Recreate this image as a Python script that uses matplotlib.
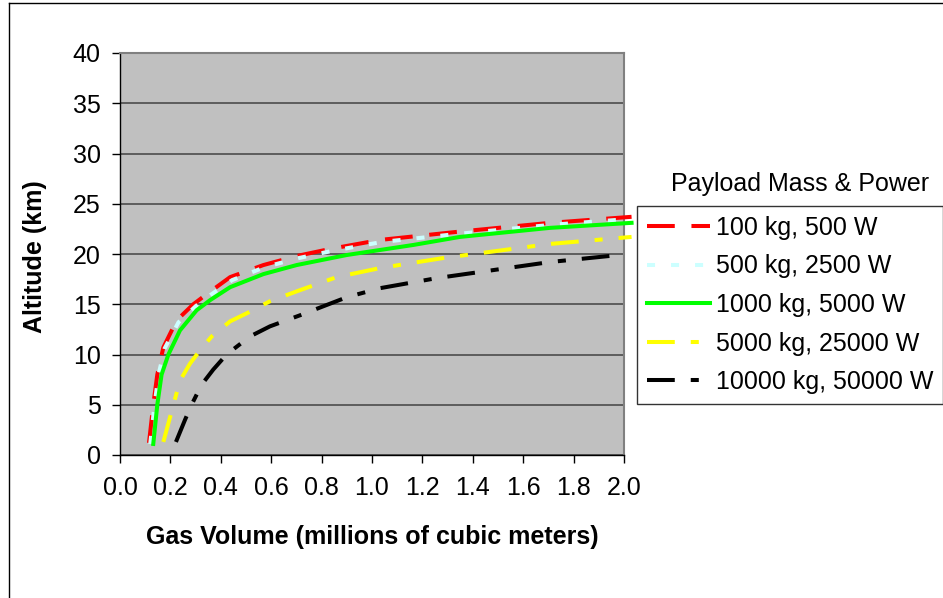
import matplotlib
matplotlib.use("Agg")
import matplotlib.pyplot as plt
import numpy as np
from matplotlib.lines import Line2D

plt.rcParams['font.family'] = ['Liberation Sans', 'DejaVu Sans']
plt.rcParams['lines.scale_dashes'] = False

# altitude (km) vs gas volume (millions of m^3) for each payload
labels = ['100 kg, 500 W', '500 kg, 2500 W', '1000 kg, 5000 W',
          '5000 kg, 25000 W', '10000 kg, 50000 W']

vol_100 = [0.115, 0.132, 0.148, 0.172, 0.225, 0.291, 0.344, 0.437, 0.569, 0.701,
           0.833, 1.032, 1.336, 1.706, 2.03]
alt_100 = [1.2, 5.0, 8.0, 10.7, 13.4, 15.0, 16.0, 17.7, 18.9, 19.8,
           20.5, 21.4, 22.2, 23.1, 23.7]

vol_500 = [0.12, 0.137, 0.153, 0.177, 0.232, 0.30, 0.352, 0.445, 0.575, 0.71,
           0.84, 1.04, 1.34, 1.71, 2.03]
alt_500 = [1.1, 5.0, 8.0, 10.6, 13.2, 14.8, 15.8, 17.4, 18.7, 19.6,
           20.3, 21.2, 22.0, 22.9, 23.5]

vol_1000 = [0.132, 0.148, 0.165, 0.192, 0.238, 0.304, 0.357, 0.437, 0.569, 0.701,
            0.9, 1.164, 1.349, 1.706, 2.03]
alt_1000 = [1.1, 5.0, 8.0, 10.0, 12.4, 14.4, 15.4, 16.7, 18.0, 18.9,
            19.9, 20.9, 21.7, 22.6, 23.1]

vol_5000 = [0.172, 0.212, 0.238, 0.278, 0.317, 0.364, 0.437, 0.503, 0.595, 0.714,
            0.86, 1.032, 1.283, 1.706, 2.03]
alt_5000 = [1.3, 5.0, 7.4, 9.1, 10.4, 11.8, 13.3, 14.1, 15.3, 16.4,
            17.7, 18.6, 19.6, 21.0, 21.7]

vol_10000 = [0.222, 0.258, 0.284, 0.324, 0.370, 0.423, 0.516, 0.595, 0.714, 0.9,
             1.032, 1.257, 1.706, 1.98]
alt_10000 = [1.3, 3.5, 5.0, 7.0, 8.5, 10.0, 11.8, 12.8, 13.9, 15.7,
             16.6, 17.6, 19.2, 19.9]

x_ticks = np.arange(0, 2.01, 0.2)
y_ticks = np.arange(0, 41, 5)

fig = plt.figure(figsize=(9.43, 5.98), dpi=100)
ax = fig.add_axes([120/943, 143/598, 504/943, 402/598])
ax.set_facecolor('#C0C0C0')

series = [
    (vol_100, alt_100, '#FF0000', (20, 12)),
    (vol_500, alt_500, '#CCFFFF', (5.8, 11.5)),
    (vol_1000, alt_1000, '#00FF00', None),
    (vol_5000, alt_5000, '#FFFF00', (20, 11.5, 5.8, 11.5)),
    (vol_10000, alt_10000, '#000000', (20, 11.5, 5.8, 11.5)),
]
handles = []
for (v, a, c, d), lab in zip(series, labels):
    ln, = ax.plot(v, a, color=c, lw=2.9, label=lab, clip_on=False, zorder=3,
                  solid_joinstyle='round')
    if d is not None:
        ln.set_dashes(d)
    handles.append(ln)

ax.set_xlim(0, 2.0)
ax.set_ylim(0, 40)
ax.set_xticks(x_ticks)
ax.set_xticklabels([f'{t:.1f}' for t in x_ticks])
ax.set_yticks(y_ticks)
ax.tick_params(axis='both', direction='out', length=6, width=1, labelsize=18, colors='black')
ax.tick_params(axis='x', pad=9)
ax.tick_params(axis='y', pad=8)

ax.yaxis.grid(True, color='#555555', lw=1.3)
ax.set_axisbelow(True)
for s in ['top', 'right']:
    ax.spines[s].set_color('#808080')
    ax.spines[s].set_linewidth(1.5)
for s in ['left', 'bottom']:
    ax.spines[s].set_color('black')
    ax.spines[s].set_linewidth(1)

fig.text(35/943, 1 - 257/598, 'Altitude (km)', rotation=90, ha='center', va='center',
         fontsize=18, fontweight='bold')
fig.text(372/943, 1 - 537/598, 'Gas Volume (millions of cubic meters)', ha='center', va='center',
         fontsize=18, fontweight='bold')

fig.text(800/943, 1 - 184/598, 'Payload Mass & Power', ha='center', va='center', fontsize=18)
leg = fig.legend(handles=handles, loc='upper left', bbox_to_anchor=(637/943, 1 - 206/598),
                 bbox_transform=fig.transFigure, borderaxespad=0, fontsize=18,
                 frameon=True, fancybox=False, handlelength=2.5, handletextpad=0.25,
                 labelspacing=0.58, borderpad=0.4)
leg.get_frame().set_edgecolor('black')
leg.get_frame().set_linewidth(1)

# outer chart border
fig.add_artist(Line2D([9/943, 9/943], [0, 1 - 3/598], color='black', lw=1))
fig.add_artist(Line2D([9/943, 1], [1 - 3/598, 1 - 3/598], color='black', lw=1))

fig.savefig('out.png', dpi=100)
